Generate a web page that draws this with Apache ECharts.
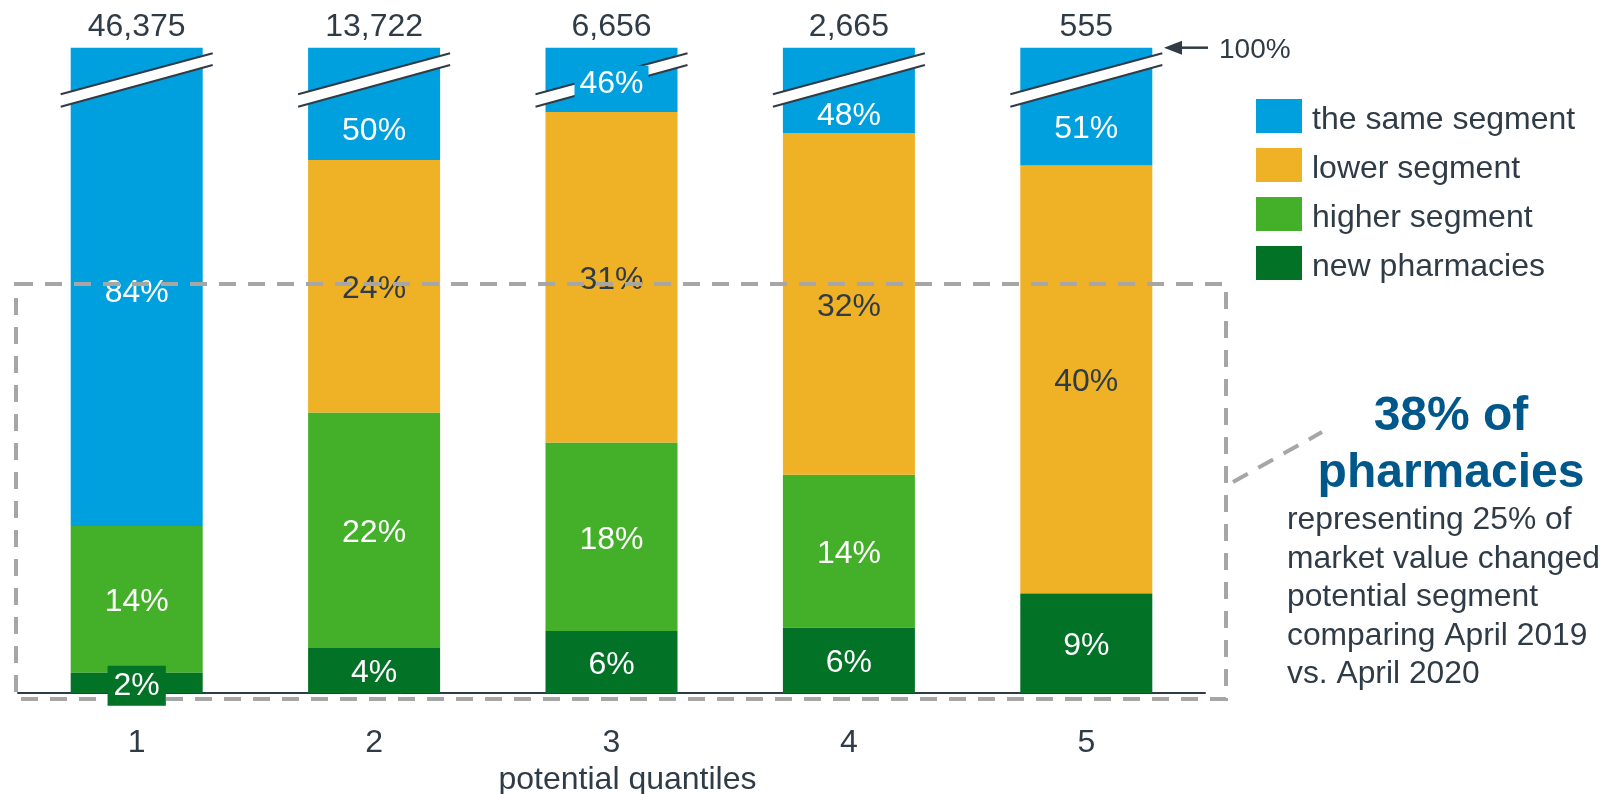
<!DOCTYPE html>
<html>
<head>
<meta charset="utf-8">
<title>potential quantiles</title>
<script src="https://cdn.jsdelivr.net/npm/echarts@6/dist/echarts.min.js"></script>
<style>
html, body { margin: 0; padding: 0; background: #fff; }
#chart { width: 1605px; height: 794px; }
</style>
</head>
<body>
<div id="chart"></div>
<script>
// pharmacies by potential quantile - segment change April 2019 vs April 2020
const quantiles = ['1', '2', '3', '4', '5']
const pharmacyCounts = ['46,375', '13,722', '6,656', '2,665', '555']
// shares in % (labels show them rounded)
const newPharmacies = [1.9, 4.2, 5.8, 6.1, 9.3]
const higherSegment = [13.7, 22.0, 17.6, 14.3, 0]
const lowerSegment = [0, 23.6, 30.9, 31.9, 40.0]
const sameSegment = [84, 50, 46, 48, 51]
const seriesNames = ['the same segment', 'lower segment', 'higher segment', 'new pharmacies']

// axis is cut, blue tops are broken
const Y_MAX = 60.3

const C_SAME = '#00A0DF'
const C_LOWER = '#EFB125'
const C_HIGHER = '#44B02A'
const C_NEW = '#027226'
const TXT = '#2F3B46'
const FONT = "'Liberation Sans', Arial, sans-serif"

// label nudges for the broken blue segment (px, down)
const sameLabelShift = [6, 27, 4, 26, 23]

const pct = (p) => (p.value ? Math.round(p.value) + '%' : '')

const chart = echarts.init(document.getElementById('chart'))

const baseUnderSame = quantiles.map((_, i) => newPharmacies[i] + higherSegment[i] + lowerSegment[i])

function barSeries(name, data, color, labelColor, z, labelExtra) {
  return {
    name,
    type: 'bar',
    stack: 'seg',
    data,
    barWidth: 132,
    barGap: '-100%',
    z,
    itemStyle: { color },
    label: Object.assign({
      show: true,
      position: 'inside',
      offset: [0, 3],
      color: labelColor,
      fontSize: 32,
      fontFamily: FONT,
      formatter: pct
    }, labelExtra || {})
  }
}

chart.setOption({
  animation: false,
  textStyle: { fontFamily: FONT },
  grid: { left: 18, right: 400, top: 47.7, bottom: 101, outerBoundsMode: 'none', containLabel: false },
  legend: {
    data: seriesNames,
    orient: 'vertical',
    left: 1256,
    top: 99,
    padding: 0,
    icon: 'rect',
    itemWidth: 46,
    itemHeight: 34,
    itemGap: 12,
    selectedMode: false,
    formatter: '{t|{name}}',
    textStyle: {
      fontSize: 32,
      color: TXT,
      rich: { t: { fontSize: 32, color: TXT, padding: [8, 0, 0, 5] } }
    }
  },
  xAxis: [
    {
      type: 'category',
      data: quantiles,
      axisLine: { lineStyle: { color: TXT, width: 2 } },
      axisTick: { show: false },
      axisLabel: { fontSize: 32, color: TXT, margin: 34 },
      name: 'potential quantiles',
      nameLocation: 'middle',
      nameGap: 70,
      nameTextStyle: { fontSize: 32, color: TXT, padding: [0, 0, 0, 32] }
    },
    {
      type: 'category',
      position: 'top',
      data: pharmacyCounts,
      axisLine: { show: false },
      axisTick: { show: false },
      axisLabel: { fontSize: 32, color: TXT, margin: 5 }
    }
  ],
  yAxis: {
    type: 'value',
    min: 0,
    max: Y_MAX,
    show: false
  },
  series: [
    barSeries('new pharmacies', newPharmacies, C_NEW, '#fff', 6, {
      backgroundColor: C_NEW, padding: [5, 6, 3, 6]
    }),
    barSeries('higher segment', higherSegment, C_HIGHER, '#fff', 2),
    barSeries('lower segment', lowerSegment, C_LOWER, TXT, 2),
    barSeries('the same segment', sameSegment, C_SAME, '#fff', 2, { show: false }),
    // transparent copy of the blue segment, only to carry its labels above the break marks
    {
      name: '_base',
      type: 'bar',
      stack: 'lbl',
      data: baseUnderSame,
      barWidth: 132,
      barGap: '-100%',
      z: 4,
      silent: true,
      itemStyle: { color: 'rgba(0,0,0,0)' }
    },
    {
      name: '_sameLabel',
      type: 'bar',
      stack: 'lbl',
      barWidth: 132,
      barGap: '-100%',
      z: 4,
      silent: true,
      itemStyle: { color: 'rgba(0,0,0,0)' },
      data: sameSegment.map((v, i) => ({
        value: v,
        // only the 3rd label sits on the break and masks it
        label: i === 2
          ? { offset: [0, sameLabelShift[i]], backgroundColor: C_SAME, padding: [2, 5] }
          : { offset: [0, sameLabelShift[i]] }
      })),
      label: {
        show: true,
        position: 'inside',
        color: '#fff',
        fontSize: 32,
        fontFamily: FONT,
        formatter: pct
      }
    }
  ]
})

function drawDecor() {
  const top = chart.convertToPixel({ yAxisIndex: 0 }, Y_MAX)
  const els = []

  // break marks on each bar
  quantiles.forEach((q) => {
    const cx = chart.convertToPixel({ xAxisIndex: 0 }, q)
    const l = cx - 76
    const r = cx + 76
    els.push({
      type: 'polygon', z: 3, silent: true,
      shape: { points: [[l, top + 46.6], [r, top + 5.6], [r, top + 17.3], [l, top + 59]] },
      style: { fill: '#fff' }
    })
    els.push({
      type: 'line', z: 3, silent: true,
      shape: { x1: l, y1: top + 46.6, x2: r, y2: top + 5.6 },
      style: { stroke: TXT, lineWidth: 2 }
    })
    els.push({
      type: 'line', z: 3, silent: true,
      shape: { x1: l, y1: top + 59, x2: r, y2: top + 17.3 },
      style: { stroke: TXT, lineWidth: 2 }
    })
  })

  // 100% marker
  els.push({
    type: 'line', z: 5, silent: true,
    shape: { x1: 1178, y1: top, x2: 1208, y2: top },
    style: { stroke: TXT, lineWidth: 2.5 }
  })
  els.push({
    type: 'polygon', z: 5, silent: true,
    shape: { points: [[1164, top], [1182, top - 7], [1182, top + 7]] },
    style: { fill: TXT }
  })
  els.push({
    type: 'text', z: 5, silent: true,
    x: 1219, y: top + 3,
    style: { text: '100%', fill: TXT, font: '28px ' + FONT, textVerticalAlign: 'middle' }
  })

  // dashed highlight box + leader
  els.push({
    type: 'rect', z: 5, silent: true,
    shape: { x: 16, y: 284, width: 1210, height: 415 },
    style: { fill: null, stroke: '#A6A6A6', lineWidth: 4, lineDash: [17, 12] }
  })
  els.push({
    type: 'line', z: 5, silent: true,
    shape: { x1: 1233, y1: 482, x2: 1322, y2: 432 },
    style: { stroke: '#A6A6A6', lineWidth: 4, lineDash: [17, 12] }
  })

  // callout text
  els.push({
    type: 'text', z: 5, silent: true,
    x: 1451, y: 417,
    style: {
      text: '38% of', fill: '#00578A', font: 'bold 48px ' + FONT,
      textAlign: 'center', textVerticalAlign: 'middle'
    }
  })
  els.push({
    type: 'text', z: 5, silent: true,
    x: 1451, y: 474,
    style: {
      text: 'pharmacies', fill: '#00578A', font: 'bold 48px ' + FONT,
      textAlign: 'center', textVerticalAlign: 'middle'
    }
  })
  els.push({
    type: 'text', z: 5, silent: true,
    x: 1287, y: 501,
    style: {
      text: 'representing 25% of\nmarket value changed\npotential segment\ncomparing April 2019\nvs. April 2020',
      fill: TXT, font: '31.8px ' + FONT, lineHeight: 38.6,
      textAlign: 'left', textVerticalAlign: 'top'
    }
  })

  chart.setOption({ graphic: { elements: els } })
}

drawDecor()
</script>
</body>
</html>
